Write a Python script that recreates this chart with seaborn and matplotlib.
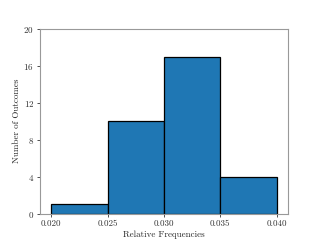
import matplotlib
matplotlib.use("Agg")
import matplotlib.pyplot as plt
import numpy as np
import pandas as pd
import seaborn as sns

# histogram bins and counts
bin_edges = [0.020, 0.025, 0.030, 0.035, 0.040]
counts = [1, 10, 17, 4]
x_ticks = [0.020, 0.025, 0.030, 0.035, 0.040]
y_ticks = [0, 4, 8, 12, 16, 20]

sns.set_style("ticks")
plt.rcParams.update({
    "font.family": "serif",
    "font.serif": ["cmr10", "DejaVu Serif"],
    "mathtext.fontset": "cm",
    "axes.formatter.use_mathtext": True,
    "font.size": 13,
    "axes.labelsize": 13,
    "xtick.labelsize": 13,
    "ytick.labelsize": 13,
    "axes.edgecolor": "#999999",
    "axes.linewidth": 1.6,
    "xtick.color": "#333333",
    "ytick.color": "#333333",
})

centers = [(a + b) / 2 for a, b in zip(bin_edges[:-1], bin_edges[1:])]
df = pd.DataFrame({"freq": centers, "n": counts})

fig, ax = plt.subplots(figsize=(6.4, 4.8), dpi=50)
sns.histplot(data=df, x="freq", weights="n", bins=bin_edges, ax=ax,
             color="#1f77b4", alpha=1, edgecolor="black", linewidth=1.8)
ax.set_xticks(x_ticks)
ax.set_xticklabels([f"{t:.3f}" for t in x_ticks])
ax.set_yticks(y_ticks)
ax.set_ylim(0, 20)
ax.set_xlabel("Relative Frequencies")
ax.set_ylabel("Number of Outcomes")
ax.tick_params(length=5, width=1.2)
for s in ax.spines.values():
    s.set_visible(True)

plt.savefig("out.png", dpi=50)
